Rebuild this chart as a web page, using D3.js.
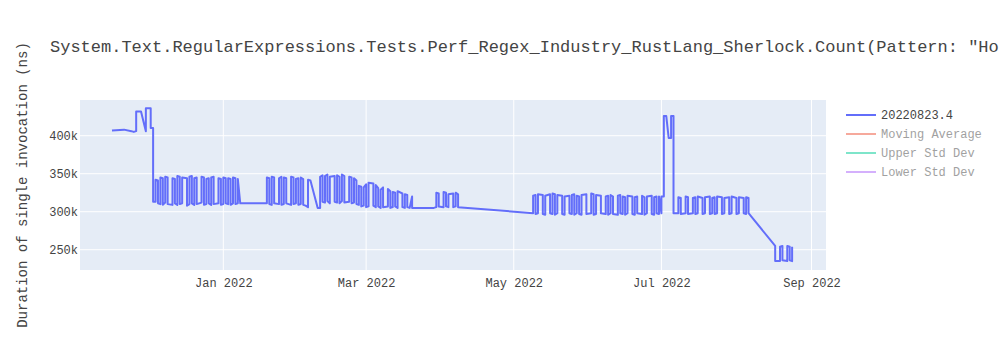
<!DOCTYPE html>
<html>
<head>
<meta charset="utf-8">
<script src="https://cdn.jsdelivr.net/npm/d3@7"></script>
<style>
  body { margin: 0; background: #fff; overflow: hidden; }
  svg { font-family: "Courier New", "Liberation Mono", monospace; }
</style>
</head>
<body>
<div id="chart"></div>
<script>
const chartTitle = 'System.Text.RegularExpressions.Tests.Perf_Regex_Industry_RustLang_Sherlock.Count(Pattern: "Holmes.{0,25}Watson|Watson.{0,25}Holmes", Options: Compiled)';
const yAxisTitle = 'Duration of single invocation (ns)';
const seriesNames = ['20220823.4', 'Moving Average', 'Upper Std Dev', 'Lower Std Dev'];
const seriesColors = ['#636efa', '#ef553b', '#00cc96', '#ab63fa'];
const xTickDates = ['2022-01-01', '2022-03-01', '2022-05-01', '2022-07-01', '2022-09-01'];
const yTickValues = [250, 300, 350, 400]; // thousands of ns

// one entry per run date; every value of a run sits on that date (thousands of ns)
const runDays = [
  // Nov - early Dec 2021
  '2021-11-16', '2021-11-21', '2021-11-24', '2021-11-25', '2021-11-26', '2021-11-28',
  '2021-11-30', '2021-12-02', '2021-12-03', '2021-12-04',
  // Dec 2021 - Jan 2022
  '2021-12-05', '2021-12-06', '2021-12-07', '2021-12-08', '2021-12-09', '2021-12-11',
  '2021-12-12', '2021-12-13', '2021-12-14', '2021-12-15', '2021-12-17', '2021-12-18',
  '2021-12-19', '2021-12-20', '2021-12-21', '2021-12-23', '2021-12-24', '2021-12-25',
  '2021-12-26', '2021-12-27', '2021-12-28', '2021-12-30', '2021-12-31', '2022-01-01',
  '2022-01-02', '2022-01-03', '2022-01-04', '2022-01-05', '2022-01-06', '2022-01-07',
  '2022-01-08', '2022-01-18',
  // Jan - Feb 2022
  '2022-01-19', '2022-01-20', '2022-01-21', '2022-01-22', '2022-01-24', '2022-01-25',
  '2022-01-26', '2022-01-27', '2022-01-29', '2022-01-30', '2022-01-31', '2022-02-01',
  '2022-02-02', '2022-02-03', '2022-02-04', '2022-02-05', '2022-02-06', '2022-02-09',
  '2022-02-10',
  // Feb 2022
  '2022-02-11', '2022-02-12', '2022-02-13', '2022-02-14', '2022-02-16', '2022-02-17',
  '2022-02-18', '2022-02-19', '2022-02-20', '2022-02-22', '2022-02-23', '2022-02-24',
  '2022-02-25',
  // late Feb - Mar 2022
  '2022-02-26', '2022-02-27', '2022-02-28', '2022-03-01', '2022-03-02', '2022-03-04',
  '2022-03-05', '2022-03-06', '2022-03-07', '2022-03-08', '2022-03-10', '2022-03-11',
  '2022-03-12', '2022-03-13', '2022-03-14', '2022-03-16', '2022-03-17', '2022-03-18',
  '2022-03-19', '2022-03-20', '2022-03-29',
  // Apr 2022
  '2022-03-30', '2022-03-31', '2022-04-02', '2022-04-03', '2022-04-04', '2022-04-06',
  '2022-04-07', '2022-04-08',
  // May - Jun 2022
  '2022-05-09', '2022-05-10', '2022-05-11', '2022-05-13', '2022-05-14', '2022-05-16',
  '2022-05-17', '2022-05-18', '2022-05-19', '2022-05-21', '2022-05-22', '2022-05-24',
  '2022-05-25', '2022-05-26', '2022-05-27', '2022-05-28', '2022-05-29', '2022-05-31',
  '2022-06-02', '2022-06-03', '2022-06-04', '2022-06-06', '2022-06-08', '2022-06-09',
  '2022-06-10', '2022-06-11', '2022-06-13', '2022-06-14', '2022-06-15', '2022-06-16',
  '2022-06-17', '2022-06-19', '2022-06-20', '2022-06-21', '2022-06-23', '2022-06-24',
  '2022-06-25', '2022-06-27', '2022-06-28', '2022-06-29', '2022-06-30', '2022-07-01',
  // Jul spike
  '2022-07-02', '2022-07-03', '2022-07-04', '2022-07-05', '2022-07-06',
  // Jul - Aug 2022
  '2022-07-08', '2022-07-09', '2022-07-11', '2022-07-12', '2022-07-14', '2022-07-15',
  '2022-07-16', '2022-07-18', '2022-07-19', '2022-07-21', '2022-07-22', '2022-07-23',
  '2022-07-24', '2022-07-26', '2022-07-27', '2022-07-29', '2022-07-30', '2022-08-01',
  '2022-08-02', '2022-08-04', '2022-08-05', '2022-08-06',
  // late Aug 2022
  '2022-08-17', '2022-08-19', '2022-08-20', '2022-08-22', '2022-08-23', '2022-08-24'
];

const runValues = [
  // Nov - early Dec 2021
  [407], [408], [406], [405], [406, 432], [432],
  [406, 436], [436, 412, 418, 410], [410, 313], [313, 342],
  // Dec 2021 - Jan 2022
  [341, 311], [310, 345], [344, 309], [312, 346], [345, 310], [309, 344],
  [343, 311], [309, 347], [346, 310], [311, 345], [344, 308], [310, 346],
  [347, 311], [309, 344], [345, 310], [312, 346], [345, 309], [310, 343],
  [344, 311], [309, 345], [346, 310], [311, 344], [343, 309], [310, 345],
  [344, 311], [310, 344], [343, 309], [311, 345], [344, 310], [311, 343],
  [311], [311],
  // Jan - Feb 2022
  [311, 345], [344, 310], [309, 346], [345, 311], [310, 344], [346, 309],
  [310, 345], [344, 311], [309, 346], [345, 310], [311, 343], [344, 309],
  [310, 345], [343, 309], [308], [306, 342], [341], [305],
  [305, 346],
  // Feb 2022
  [348, 313], [312, 347], [349, 314], [311, 346], [347, 313], [312, 348],
  [346, 311], [314, 349], [347, 312], [313, 346], [345, 311], [312, 344],
  [341, 310],
  // late Feb - Mar 2022
  [309, 334], [333, 307], [308, 332], [336, 306], [307, 338], [337, 308],
  [306, 335], [331, 307], [305, 329], [332, 306], [307, 330], [327, 305],
  [306, 326], [325, 307], [305, 327], [324, 306], [305, 323], [322, 306],
  [305], [320, 305], [305],
  // Apr 2022
  [306, 325], [324, 307], [306, 326], [325, 307], [306, 323], [324, 306],
  [307, 325], [323, 306],
  // May - Jun 2022
  [298, 321], [322, 297], [298, 323], [322, 297], [296, 321], [323, 298],
  [297, 324], [323, 296], [298, 322], [321, 297], [296, 320], [321, 298],
  [297, 322], [323, 296], [298, 321], [320, 297], [296, 322], [323, 297],
  [298, 324], [323, 296], [297, 322], [321, 298], [297, 320], [321, 296],
  [298, 322], [320, 297], [296, 321], [322, 298], [297, 320], [319, 296],
  [298, 321], [320, 297], [296, 319], [320, 298], [297, 321], [319, 296],
  [298, 320], [321, 297], [296, 319], [320, 298], [297, 320], [298, 320],
  // Jul spike
  [320, 426], [426], [397], [397, 426], [426, 298],
  // Jul - Aug 2022
  [298, 319], [318, 297], [298, 320], [319, 297], [298, 318], [319, 297],
  [298, 320], [318, 297], [298, 319], [320, 297], [298, 318], [319, 297],
  [298, 320], [319, 297], [298, 318], [319, 297], [298, 320], [318, 297],
  [298, 319], [318, 298], [297, 319], [318, 298],
  // late Aug 2022
  [255, 235], [235, 254], [255, 236], [235, 255], [254, 236], [235, 254]
];

const width = 1000;
const height = 350;
const margin = { top: 100, right: 174, bottom: 80, left: 80 };
const plotW = width - margin.left - margin.right;
const plotH = height - margin.top - margin.bottom;

const parseDay = d3.utcParse('%Y-%m-%d');

// flatten runs into line points
const points = [];
runDays.forEach((day, i) => {
  runValues[i].forEach(v => points.push({ date: parseDay(day), value: v }));
});

const svg = d3.select('#chart')
  .append('svg')
  .attr('width', width)
  .attr('height', height);

svg.append('rect')
  .attr('width', width)
  .attr('height', height)
  .attr('fill', '#fff');

const g = svg.append('g')
  .attr('transform', `translate(${margin.left},${margin.top})`);

// Scales
const xScale = d3.scaleUtc()
  .domain([new Date(Date.UTC(2021, 10, 2, 19)), new Date(Date.UTC(2022, 8, 7, 0))])
  .range([0, plotW]);

const yScale = d3.scaleLinear()
  .domain([223.3, 447])
  .range([plotH, 0]);

// Plot background
g.append('rect')
  .attr('width', plotW)
  .attr('height', plotH)
  .attr('fill', '#e5ecf6');

// Grid lines
const xTicks = xTickDates.map(parseDay);
g.append('g')
  .selectAll('line')
  .data(xTicks)
  .join('line')
  .attr('x1', d => xScale(d))
  .attr('x2', d => xScale(d))
  .attr('y1', 0)
  .attr('y2', plotH)
  .attr('stroke', '#fff')
  .attr('stroke-width', 1);

g.append('g')
  .selectAll('line')
  .data(yTickValues)
  .join('line')
  .attr('x1', 0)
  .attr('x2', plotW)
  .attr('y1', d => yScale(d))
  .attr('y2', d => yScale(d))
  .attr('stroke', '#fff')
  .attr('stroke-width', 1);

// Axes (labels only, plotly style)
const xAxis = d3.axisBottom(xScale)
  .tickValues(xTicks)
  .tickFormat(d3.utcFormat('%b %Y'))
  .tickSize(0)
  .tickPadding(8);

const yAxis = d3.axisLeft(yScale)
  .tickValues(yTickValues)
  .tickFormat(d => `${d}k`)
  .tickSize(0)
  .tickPadding(2);

g.append('g')
  .attr('transform', `translate(0,${plotH})`)
  .call(xAxis)
  .call(a => a.select('.domain').remove())
  .selectAll('text')
  .attr('fill', '#444')
  .style('font-size', '12px')
  .style('font-family', '"Courier New", "Liberation Mono", monospace');

g.append('g')
  .call(yAxis)
  .call(a => a.select('.domain').remove())
  .selectAll('text')
  .attr('fill', '#444')
  .style('font-size', '12px')
  .style('font-family', '"Courier New", "Liberation Mono", monospace');

// Data line
g.append('clipPath')
  .attr('id', 'plot-clip')
  .append('rect')
  .attr('width', plotW)
  .attr('height', plotH);

const line = d3.line()
  .x(d => xScale(d.date))
  .y(d => yScale(d.value));

g.append('path')
  .datum(points)
  .attr('clip-path', 'url(#plot-clip)')
  .attr('fill', 'none')
  .attr('stroke', seriesColors[0])
  .attr('stroke-width', 2)
  .attr('stroke-linejoin', 'round')
  .attr('d', line);

// Title
svg.append('text')
  .attr('x', 50)
  .attr('y', 52)
  .attr('fill', '#444')
  .style('font-size', '17px')
  .text(chartTitle);

// Y axis title
svg.append('text')
  .attr('transform', `translate(27,${margin.top + plotH / 2}) rotate(-90)`)
  .attr('text-anchor', 'middle')
  .attr('fill', '#444')
  .style('font-size', '14px')
  .text(yAxisTitle);

// Legend
const legend = svg.append('g')
  .attr('transform', 'translate(846,115)');

const items = legend.selectAll('g')
  .data(seriesNames)
  .join('g')
  .attr('transform', (d, i) => `translate(0,${i * 19})`)
  .attr('opacity', (d, i) => (i === 0 ? 1 : 0.5));

items.append('line')
  .attr('x1', 0)
  .attr('x2', 30)
  .attr('stroke', (d, i) => seriesColors[i])
  .attr('stroke-width', 2);

items.append('text')
  .attr('x', 35)
  .attr('y', 4)
  .attr('fill', '#444')
  .style('font-size', '12px')
  .text(d => d);
</script>
</body>
</html>
